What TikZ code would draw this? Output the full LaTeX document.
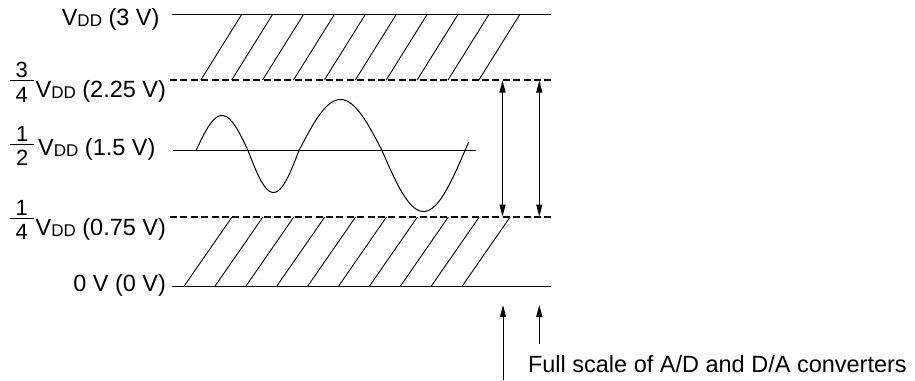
\documentclass[tikz,border=0pt]{standalone}
\usepackage{fontspec}
\setmainfont{Liberation Sans}
\usetikzlibrary{arrows.meta}
\newcommand{\vdd}{V\raisebox{-1.5pt}{\fontsize{17}{17}\selectfont DD}}
\begin{document}
\begin{tikzpicture}[x=1pt,y=-1pt,
  lbl/.style={font=\fontsize{23.5}{28}\selectfont, inner sep=0pt, outer sep=0pt},
  fracdig/.style={font=\fontsize{22}{24}\selectfont, inner sep=0pt, outer sep=0pt, anchor=base},
  level/.style={line width=1.1pt},
  levdash/.style={line width=1.1pt, dash pattern=on 7pt off 3.4pt},
  hatch/.style={line width=0.9pt},
  wave/.style={line width=1pt},
  fracbar/.style={line width=1pt},
  arr/.style={line width=1pt, -{Triangle[length=12pt,width=6pt]}},
  darr/.style={line width=1pt, {Triangle[length=12pt,width=6pt]}-{Triangle[length=12pt,width=6pt]}},
]
\path[use as bounding box] (0,0) rectangle (915,380);

% level lines
\coordinate (t0) at (172,14.3);  \coordinate (t1) at (551,14.3);
\coordinate (q0) at (170,80);    \coordinate (q1) at (553,80);
\coordinate (h0) at (173,150.5); \coordinate (h1) at (476,150.5);
\coordinate (r0) at (170,217);   \coordinate (r1) at (552,217);
\coordinate (z0) at (172,286.3); \coordinate (z1) at (551,286.3);
\draw[level] (t0) -- (t1);
\draw[levdash] (q0) -- (q1);
\draw[level] (h0) -- (h1);
\draw[levdash] (r0) -- (r1);
\draw[level] (z0) -- (z1);

% hatching
\foreach \k in {0,...,9} {
  \draw[hatch] ({200.8+30.9*\k},80) -- ({241.8+30.9*\k},14.3);
  \draw[hatch] ({184+30.9*\k},286.3) -- ({232+30.9*\k},217);
}

% sine wave
\draw[wave] plot[domain=0:180, samples=40, smooth] ({196+52*\x/180},{150.5-35*sin(\x)})
  -- plot[domain=0:180, samples=40, smooth] ({248+51*\x/180},{150.5+42*sin(\x)})
  -- plot[domain=0:180, samples=50, smooth] ({299+83*\x/180},{150.5-51*sin(\x)})
  -- plot[domain=0:188, samples=50, smooth] ({382+83*\x/180},{150.5+61*sin(\x)});

% labels
\node[lbl, anchor=base east] (lt) at (159.5,25) {\vdd\ (3 V)};
\node[lbl, anchor=base east] (lq) at (166,97) {\vdd\ (2.25 V)};
\node[lbl, anchor=base east] (lh) at (155.5,155) {\vdd\ (1.5 V)};
\node[lbl, anchor=base east] (lr) at (166,235) {\vdd\ (0.75 V)};
\node[lbl, anchor=base east] (lz) at (166,291.7) {0 V (0 V)};

% fractions
\coordinate (yq) at (0,80);
\coordinate (yh) at (0,144);
\coordinate (yr) at (0,218);
\draw[fracbar] ([xshift=-2pt]lq.west |- yq) -- coordinate (fq) ++(-24,0);
\draw[fracbar] ([xshift=-4pt]lh.west |- yh) -- coordinate (fh) ++(-24,0);
\draw[fracbar] ([xshift=-2pt]lr.west |- yr) -- coordinate (fr) ++(-24,0);
\node[fracdig] (nq) at ([yshift=2.5pt]fq) {3};
\node[fracdig] (dq) at ([yshift=-22pt]fq) {4};
\node[fracdig] (nh) at ([yshift=2.5pt]fh) {1};
\node[fracdig] (dh) at ([yshift=-21pt]fh) {2};
\node[fracdig] (nr) at ([yshift=2.5pt]fr) {1};
\node[fracdig] (dr) at ([yshift=-21pt]fr) {4};

% full-scale arrows
\coordinate (a1t) at (502.5,80.5);  \coordinate (a1b) at (502.5,216.5);
\coordinate (a2t) at (539.3,80.5);  \coordinate (a2b) at (539.3,216.5);
\draw[darr] (a1t) -- (a1b);
\draw[darr] (a2t) -- (a2b);

\coordinate (b1s) at (503,380);   \coordinate (b1e) at (503,305);
\coordinate (b2s) at (539.3,344); \coordinate (b2e) at (539.3,305);
\draw[arr] (b1s) -- (b1e);
\draw[arr] (b2s) -- (b2e);

\node[lbl, anchor=base west] (fs) at (528,372) {Full scale of A/D and D/A converters};
\end{tikzpicture}
\end{document}
